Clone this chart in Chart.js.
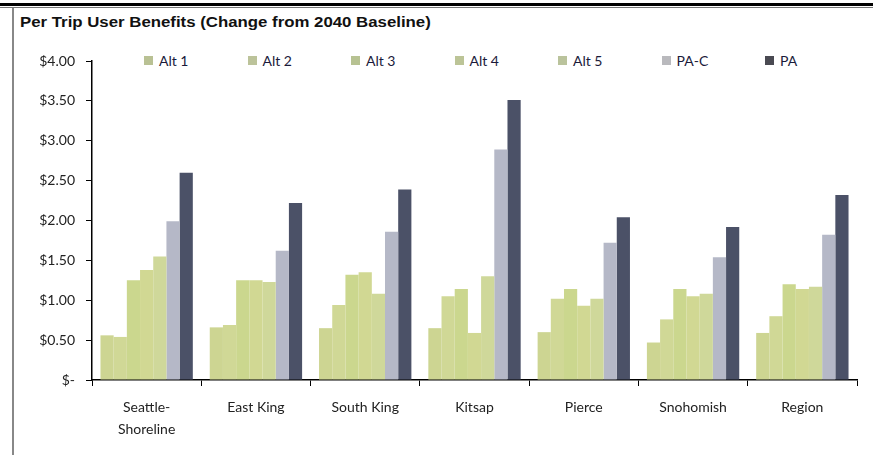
<!DOCTYPE html>
<html>
<head>
<meta charset="utf-8">
<script src="https://cdn.jsdelivr.net/npm/chart.js@4.4.0/dist/chart.umd.min.js"></script>
<style>
  body { margin: 0; background: #fff; }
  #wrap { position: relative; width: 873px; height: 455px; overflow: hidden; }
  #topline { position: absolute; left: 0; top: 3px; width: 873px; height: 3px; background: #000; }
  #topline2 { position: absolute; left: 0; top: 7px; width: 873px; height: 1px; background: #777; }
  #leftline { position: absolute; left: 12px; top: 8px; width: 2px; height: 447px; background: #888; }
  #title { position: absolute; left: 20px; top: 14px; font: bold 14px Arial, "Liberation Sans", sans-serif; color: #111;
           transform: scaleX(1.2); transform-origin: left top; white-space: nowrap; }
  #legend { position: absolute; left: 144px; top: 52px; display: flex; font: 14px Lato, sans-serif; color: #1a1a3a; }
  .item { width: 103.5px; display: flex; align-items: center; }
  .sw { width: 9px; height: 9px; margin-right: 6px; }
  canvas { position: absolute; left: 0; top: 0; }
</style>
</head>
<body>
<div id="wrap">
  <div id="topline"></div>
  <div id="topline2"></div>
  <div id="leftline"></div>
  <div id="title">Per Trip User Benefits (Change from 2040 Baseline)</div>
  <div id="legend"></div>
  <canvas id="chart" width="873" height="455"></canvas>
</div>
<script>
const categories = [['Seattle-', 'Shoreline'], 'East King', 'South King', 'Kitsap', 'Pierce', 'Snohomish', 'Region'];
const seriesNames = ['Alt 1', 'Alt 2', 'Alt 3', 'Alt 4', 'Alt 5', 'PA-C', 'PA'];
const alt1 = [0.56, 0.66, 0.65, 0.65, 0.60, 0.47, 0.59];
const alt2 = [0.54, 0.69, 0.94, 1.05, 1.02, 0.76, 0.80];
const alt3 = [1.25, 1.25, 1.32, 1.14, 1.14, 1.14, 1.20];
const alt4 = [1.38, 1.25, 1.35, 0.59, 0.93, 1.05, 1.14];
const alt5 = [1.55, 1.23, 1.08, 1.30, 1.02, 1.08, 1.17];
const paC = [1.99, 1.62, 1.86, 2.89, 1.72, 1.54, 1.82];
const pa = [2.60, 2.22, 2.39, 3.51, 2.04, 1.92, 2.32];
const yTicks = [0, 0.5, 1, 1.5, 2, 2.5, 3, 3.5, 4];

const values = [alt1, alt2, alt3, alt4, alt5, paC, pa];
const colors = ['#cdd592', '#d0d896', '#cbd78e', '#d1d893', '#cfd89a', '#b5b8c7', '#4b5167'];
const swatchColors = ['#b9c194', '#bcc39a', '#b7c292', '#bcc497', '#bac39c', '#b9b9bd', '#4a4a52'];

// html legend, overlaid on top of the plot like the original
const legend = document.getElementById('legend');
seriesNames.forEach((name, i) => {
  const it = document.createElement('div');
  it.className = 'item';
  it.innerHTML = '<span class="sw" style="background:' + swatchColors[i] + '"></span>' + name;
  legend.appendChild(it);
});

const ctx = document.getElementById('chart').getContext('2d');
new Chart(ctx, {
  type: 'bar',
  data: {
    labels: categories,
    datasets: seriesNames.map((name, i) => ({
      label: name,
      data: values[i],
      backgroundColor: colors[i],
      borderWidth: 0,
      barPercentage: 1,
      categoryPercentage: 0.845,
    })),
  },
  options: {
    responsive: false,
    animation: false,
    layout: { padding: { top: 61, right: 16, bottom: 0, left: 0 } },
    plugins: { legend: { display: false }, tooltip: { enabled: false } },
    scales: {
      x: {
        grid: { offset: true, drawOnChartArea: false, drawTicks: true, tickLength: 6, color: '#000' },
        border: { color: '#000', width: 1.5 },
        ticks: { color: '#222', font: { family: 'Lato', size: 14, lineHeight: 1.55 }, padding: 11, maxRotation: 0, autoSkip: false },
        afterFit: (s) => { s.height = 75; },
      },
      y: {
        min: 0,
        max: 4,
        afterBuildTicks: (s) => { s.ticks = yTicks.map((v) => ({ value: v })); },
        grid: { drawOnChartArea: false, drawTicks: true, tickLength: 6, color: '#000' },
        border: { color: '#000', width: 1.5 },
        ticks: {
          color: '#222',
          font: { family: 'Lato', size: 14 },
          padding: 11,
          callback: (v) => (v === 0 ? '$-' : '$' + v.toFixed(2)),
        },
        afterFit: (s) => { s.width = 92; },
      },
    },
  },
});
</script>
</body>
</html>
